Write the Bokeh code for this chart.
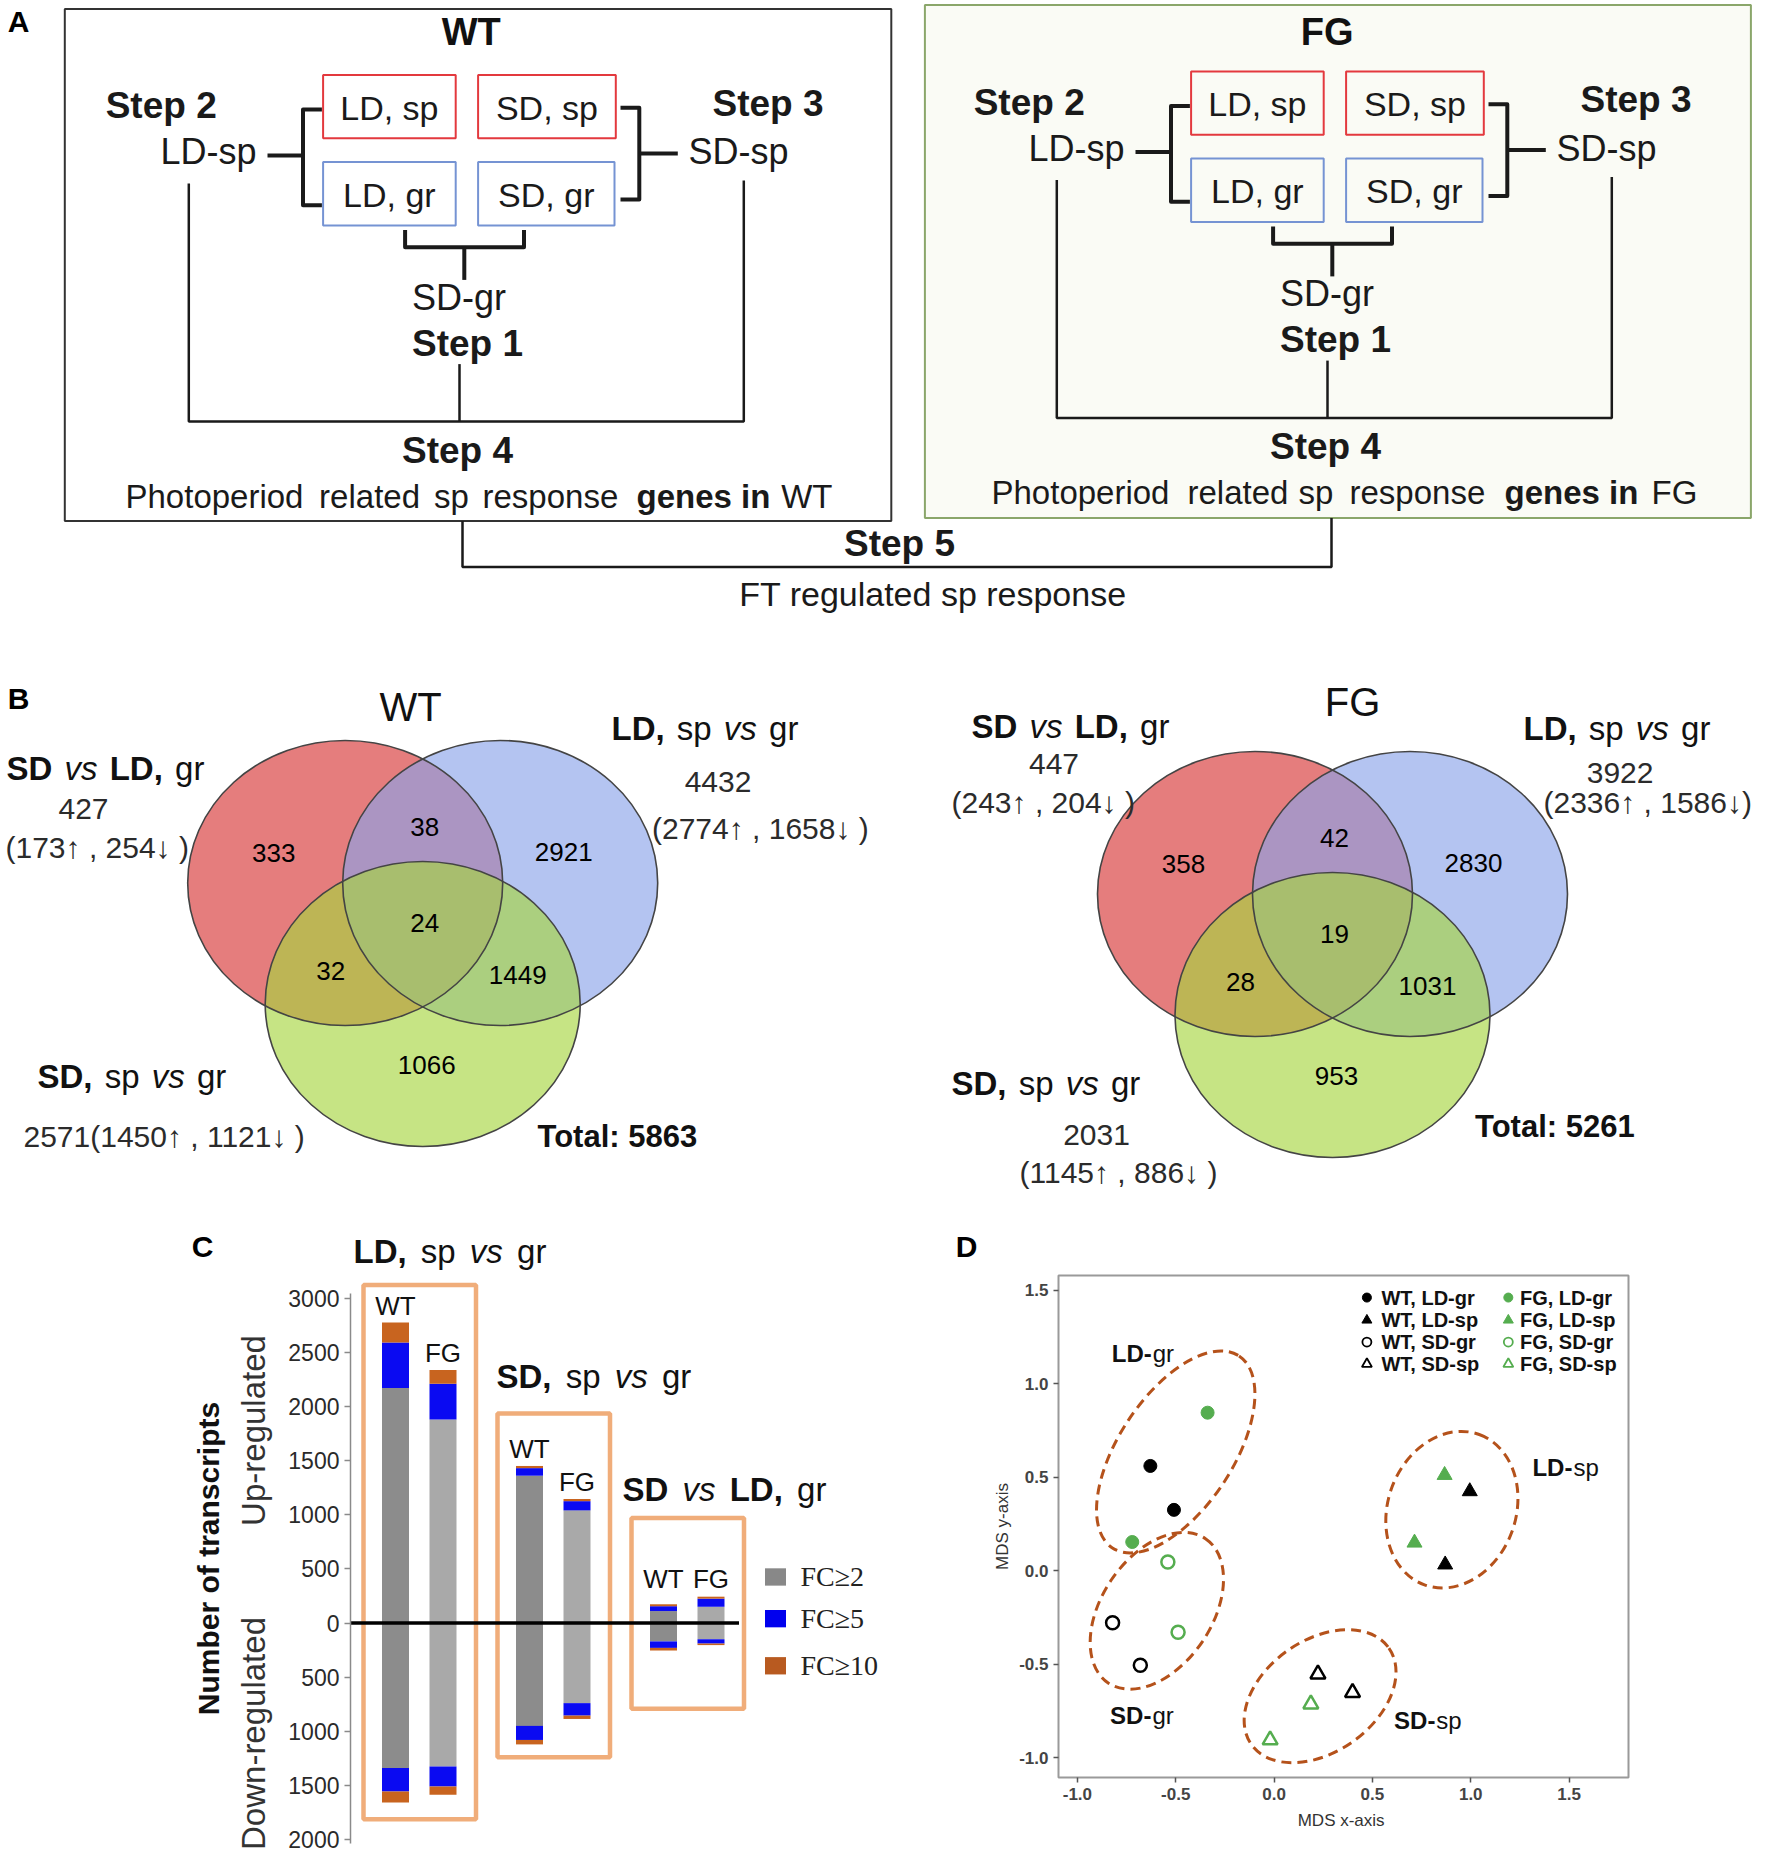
import numpy as np
from bokeh.plotting import figure
from bokeh.models import Range1d, Label, FixedTicker, PrintfTickFormatter
from bokeh.layouts import column, row
from bokeh.embed import file_html
from bokeh.resources import INLINE

FONT = "Liberation Sans"
SERIF = "Liberation Serif"

# ======================= DATA =======================
# Panel B - Venn region counts: red-only, red&blue, blue-only, all three, red&green, blue&green, green-only
wt_venn_counts = [333, 38, 2921, 24, 32, 1449, 1066]
fg_venn_counts = [358, 42, 2830, 19, 28, 1031, 953]
# sets: SD vs LD gr | LD sp vs gr | SD sp vs gr
wt_set_total = [427, 4432, 2571]
wt_set_up = [173, 2774, 1450]
wt_set_down = [254, 1658, 1121]
fg_set_total = [447, 3922, 2031]
fg_set_up = [243, 2336, 1145]
fg_set_down = [204, 1586, 886]
venn_grand_total = [5863, 5261]

# Panel C - numbers of transcripts (order: LD-WT, LD-FG, SD-WT, SD-FG, SDvsLD-WT, SDvsLD-FG)
comparisons = ["LD, sp vs gr", "SD, sp vs gr", "SD vs LD, gr"]
genotypes = ["WT", "FG"]
up_fc2 = [2170, 1880, 1360, 1040, 110, 150]
up_fc5 = [420, 330, 70, 85, 45, 75]
up_fc10 = [184, 126, 20, 20, 18, 18]
down_fc2 = [1340, 1325, 950, 740, 170, 150]
down_fc5 = [215, 185, 130, 115, 60, 40]
down_fc10 = [103, 76, 41, 31, 24, 14]
c_ticks = [-2000, -1500, -1000, -500, 0, 500, 1000, 1500, 2000, 2500, 3000]
fc_labels = ["FC\u22652", "FC\u22655", "FC\u226510"]

# Panel D - MDS coordinates
wt_ldgr_x = [-0.629, -0.509]; wt_ldgr_y = [0.560, 0.325]
fg_ldgr_x = [-0.338, -0.721]; fg_ldgr_y = [0.845, 0.153]
wt_sdgr_x = [-0.821, -0.680]; wt_sdgr_y = [-0.279, -0.506]
fg_sdgr_x = [-0.540, -0.488]; fg_sdgr_y = [0.046, -0.330]
wt_ldsp_x = [0.995, 0.870]; wt_ldsp_y = [0.424, 0.032]
fg_ldsp_x = [0.867, 0.714]; fg_ldsp_y = [0.511, 0.149]
wt_sdsp_x = [0.223, 0.399]; wt_sdsp_y = [-0.554, -0.653]
fg_sdsp_x = [0.187, -0.020]; fg_sdsp_y = [-0.714, -0.906]
d_ticks = [-1.0, -0.5, 0.0, 0.5, 1.0, 1.5]
cluster_names = ["LD-gr", "SD-gr", "LD-sp", "SD-sp"]
cluster_cx = [-0.500, -0.596, 0.904, 0.234]
cluster_cy = [0.635, -0.215, 0.326, -0.672]

# ======================= HELPERS =======================
REG = {' ': 278, '(': 333, ')': 333, ',': 278, '-': 333, '.': 278, ':': 278, '\u2191': 500, '\u2193': 500,
       'A': 667, 'B': 667, 'C': 722, 'D': 722, 'F': 611, 'G': 778, 'L': 556, 'N': 722, 'P': 667, 'S': 667,
       'T': 611, 'U': 722, 'W': 944, 'a': 556, 'b': 556, 'c': 500, 'd': 556, 'e': 556, 'f': 278, 'g': 556,
       'h': 556, 'i': 222, 'l': 222, 'm': 833, 'n': 556, 'o': 556, 'p': 556, 'r': 333, 's': 500, 't': 278,
       'u': 556, 'v': 500, 'w': 722, 'x': 500, 'y': 500}
BOLD = {' ': 278, ',': 278, '-': 333, ':': 333, 'D': 722, 'F': 611, 'G': 778, 'L': 611, 'S': 667, 'T': 611,
        'W': 944, 'a': 556, 'e': 556, 'g': 611, 'i': 278, 'l': 278, 'n': 611, 'o': 611, 'p': 611, 'r': 389,
        's': 556, 't': 333, 'v': 556, 'u': 611, 'm': 889}


def tw(text, style, size):
    table = BOLD if "bold" in style else REG
    return sum(table.get(ch, 556) for ch in text) * size / 1000.0


def lab(p, x, y, text, size, style="normal", color="#111111", align="center", baseline="middle",
        angle=0.0, font=FONT, xoff=0.0):
    p.add_layout(Label(x=x, y=y, text=text, text_font=font, text_font_size=f"{size}px",
                       text_font_style=style, text_color=color, text_align=align,
                       text_baseline=baseline, angle=angle, x_offset=xoff))


def rich(p, x, y, pieces, size, color="#111111", extra=3.0, sep=None, align="left"):
    gap = (278 * size / 1000.0 + extra) if sep is None else sep
    widths = [tw(t, s, size) for t, s in pieces]
    total = sum(widths) + gap * (len(pieces) - 1)
    off = 0.0 if align == "left" else -total / 2.0
    for (t, s), w in zip(pieces, widths):
        lab(p, x, y, t, size, style=s, color=color, align="left", xoff=off)
        off += w + gap


def comp_pieces(name):
    if name.startswith("SD vs"):
        return [("SD", "bold"), ("vs", "italic"), ("LD,", "bold"), ("gr", "normal")]
    head = name.split(" ")[0]
    return [(head, "bold"), ("sp", "normal"), ("vs", "italic"), ("gr", "normal")]


def no_align(p):
    if "frame_align" in p.properties():
        p.frame_align = False
    return p


PAGE_W = 1770
TOP_H = 1225
BOT_H = 637

# ======================= PANELS A + B (canvas) =======================
ab = figure(width=PAGE_W, height=TOP_H, x_range=Range1d(0, PAGE_W), y_range=Range1d(TOP_H, 0),
            x_axis_type=None, y_axis_type=None, toolbar_location=None, output_backend="svg",
            min_border=0, outline_line_color=None, background_fill_color="white")
no_align(ab)

RED_BOX = "#e3393e"
BLUE_BOX = "#7593d3"

ab.quad(left=[64.3], right=[890.8], top=[8.4], bottom=[520.5], fill_color="white",
        line_color="#333333", line_width=2)
ab.quad(left=[924.4], right=[1750.4], top=[4.6], bottom=[517.4], fill_color="#fafbf5",
        line_color="#8aa66a", line_width=2)
lab(ab, 18, 21, "A", 30, "bold", "black")
lab(ab, 470.7, 31, "WT", 38, "bold", "#111111")
lab(ab, 1326.6, 31, "FG", 38, "bold", "#111111")

cond_text = ["LD, sp", "SD, sp", "LD, gr", "SD, gr"]


def flow(p, dx, dy, genotype, words_x):
    X = lambda v: v + dx
    Y = lambda v: v + dy
    bl = [322.6, 477.6, 322.6, 477.6]
    br = [455.2, 615.3, 455.2, 614.0]
    bt = [74.6, 74.6, 161.5, 161.5]
    bb = [137.8, 137.8, 225.0, 225.0]
    cols = [RED_BOX, RED_BOX, BLUE_BOX, BLUE_BOX]
    p.quad(left=[X(v) for v in bl], right=[X(v) for v in br], top=[Y(v) for v in bt],
           bottom=[Y(v) for v in bb], fill_color=None, line_color=cols, line_width=2)
    for i, t in enumerate(cond_text):
        lab(p, X((bl[i] + br[i]) / 2), Y((bt[i] + bb[i]) / 2 + 1), t, 34, "normal", "#1a1a1a")
    brackets_x = [[321.4, 302.5, 302.5, 321.4], [267, 302.5],
                  [620, 638.8, 638.8, 620], [638.8, 677.3],
                  [404.6, 404.6, 523.5, 523.5], [463.8, 463.8]]
    brackets_y = [[109, 109, 204.7, 204.7], [155, 155],
                  [107.2, 107.2, 199, 199], [153, 153],
                  [229.6, 246.8, 246.8, 229.6], [246.8, 279.4]]
    p.multi_line(xs=[[X(v) for v in a] for a in brackets_x], ys=[[Y(v) for v in a] for a in brackets_y],
                 line_color="#1a1a1a", line_width=4, line_join="round")
    big_x = [[188.3, 188.3, 743.3, 743.3], [459, 459]]
    big_y = [[183, 421, 421, 180], [363.6, 421]]
    p.multi_line(xs=[[X(v) for v in a] for a in big_x], ys=[[Y(v) for v in a] for a in big_y],
                 line_color="#1a1a1a", line_width=2.5)
    lab(p, X(160.7), Y(105), "Step 2", 37, "bold", "#1a1a1a")
    lab(p, X(208), Y(151), "LD-sp", 36, "normal", "#1a1a1a")
    lab(p, X(767.5), Y(102.6), "Step 3", 37, "bold", "#1a1a1a")
    lab(p, X(738), Y(151), "SD-sp", 36, "normal", "#1a1a1a")
    lab(p, X(458.6), Y(296.6), "SD-gr", 36, "normal", "#1a1a1a")
    lab(p, X(467), Y(342.5), "Step 1", 37, "bold", "#1a1a1a")
    lab(p, X(457), Y(449.7), "Step 4", 37, "bold", "#1a1a1a")
    words = [("Photoperiod", "normal"), ("related", "normal"), ("sp", "normal"), ("response", "normal"),
             ("genes in", "bold"), (genotype, "normal")]
    for (w, s), wx in zip(words, words_x):
        lab(p, wx, Y(495.6), w, 33, s, "#1a1a1a", align="left")


flow(ab, 0, 0, "WT", [125, 318.6, 433.4, 482, 636, 780.7])
flow(ab, 868, -3.5, "FG", [991, 1187, 1298, 1349, 1504, 1651])

ab.line(x=[462, 462, 1331, 1331], y=[520.5, 566.4, 566.4, 517.4], line_color="#1a1a1a", line_width=2.5)
lab(ab, 899, 543, "Step 5", 37, "bold", "#1a1a1a")
lab(ab, 932.5, 593, "FT regulated sp response", 34, "normal", "#1a1a1a")

# ---------- Panel B ----------
lab(ab, 18, 698, "B", 30, "bold", "black")
V_RED, V_BLUE, V_GREEN = "#d63434", "#8aa2e9", "#a6d43e"
circ_dx = [-77.5, 77.5, 0.0]
circ_dy = [0.0, 0.0, 121.0]
region_dx = [-149, 2, 141, 2, -92, 95, 4]
region_dy = [-30, -56, -31, 40, 88, 92, 182]


def venn(p, ax, ay, counts):
    cx = [ax + d for d in circ_dx]
    cy = [ay + d for d in circ_dy]
    for i, col in enumerate([V_RED, V_BLUE, V_GREEN]):
        p.ellipse(x=[cx[i]], y=[cy[i]], width=315, height=285, fill_color=col, fill_alpha=0.64,
                  line_color=None)
    p.ellipse(x=cx, y=cy, width=315, height=285, fill_color=None, line_color="#444444", line_width=1.6)
    for n, dxx, dyy in zip(counts, region_dx, region_dy):
        lab(p, ax + dxx, ay + dyy, str(n), 26, "normal", "black")


venn(ab, 422.2, 882.5, wt_venn_counts)
venn(ab, 1332.0, 893.5, fg_venn_counts)

NUMC = "#2b2b2b"
lab(ab, 410, 706, "WT", 40, "normal", "#111111")
rich(ab, 6, 768, comp_pieces(comparisons[2]), 33)
lab(ab, 83, 808, str(wt_set_total[0]), 30, "normal", NUMC)
lab(ab, 5, 847, f"({wt_set_up[0]}\u2191 , {wt_set_down[0]}\u2193 )", 30, "normal", NUMC, align="left")
rich(ab, 611, 727.5, comp_pieces(comparisons[0]), 33)
lab(ab, 717.5, 781, str(wt_set_total[1]), 30, "normal", NUMC)
lab(ab, 651.5, 827.5, f"({wt_set_up[1]}\u2191 , {wt_set_down[1]}\u2193 )", 30, "normal", NUMC, align="left")
rich(ab, 37, 1075.5, comp_pieces(comparisons[1]), 33)
lab(ab, 23, 1136, f"{wt_set_total[2]}({wt_set_up[2]}\u2191 , {wt_set_down[2]}\u2193 )", 30, "normal", NUMC,
    align="left")
lab(ab, 537, 1136, f"Total: {venn_grand_total[0]}", 31, "bold", "#111111", align="left")
lab(ab, 1352, 701, "FG", 40, "normal", "#111111")
rich(ab, 971, 725.7, comp_pieces(comparisons[2]), 33)
lab(ab, 1053.5, 763, str(fg_set_total[0]), 30, "normal", NUMC)
lab(ab, 951, 802.4, f"({fg_set_up[0]}\u2191 , {fg_set_down[0]}\u2193 )", 30, "normal", NUMC, align="left")
rich(ab, 1523, 727.5, comp_pieces(comparisons[0]), 33)
lab(ab, 1619.6, 772, str(fg_set_total[1]), 30, "normal", NUMC)
lab(ab, 1543, 802.4, f"({fg_set_up[1]}\u2191 , {fg_set_down[1]}\u2193)", 30, "normal", NUMC, align="left")
rich(ab, 951, 1082.7, comp_pieces(comparisons[1]), 33)
lab(ab, 1096, 1134.5, str(fg_set_total[2]), 30, "normal", NUMC)
lab(ab, 1019, 1172, f"({fg_set_up[2]}\u2191 , {fg_set_down[2]}\u2193 )", 30, "normal", NUMC, align="left")
lab(ab, 1474.5, 1125.5, f"Total: {venn_grand_total[1]}", 31, "bold", "#111111", align="left")

# ======================= PANEL C: side text canvas =======================
CL_W = 280
cl = figure(width=CL_W, height=BOT_H, x_range=Range1d(0, CL_W), y_range=Range1d(-(TOP_H + BOT_H), -TOP_H),
            x_axis_type=None, y_axis_type=None, toolbar_location=None, output_backend="svg",
            min_border=0, outline_line_color=None, background_fill_color="white")
no_align(cl)
lab(cl, 202, -1246, "C", 30, "bold", "black")
lab(cl, 207.5, -1558, "Number of transcripts", 30, "bold", "#111111", angle=np.pi / 2)
lab(cl, 253.4, -1430, "Up-regulated", 33, "normal", "#333333", angle=np.pi / 2)
lab(cl, 253.4, -1733, "Down-regulated", 33, "normal", "#333333", angle=np.pi / 2)

# ======================= PANEL C: bar chart =======================
C_W = 710
C_LB = 70
PXU = 50.0           # pixels per slot unit
PXV = 0.1083         # pixels per transcript
Y0 = 1622.5 - TOP_H  # pixel row of zero inside the panel
c = figure(width=C_W, height=BOT_H,
           x_range=Range1d(-0.9, -0.9 + (C_W - C_LB) / PXU),
           y_range=Range1d(-(BOT_H - Y0) / PXV, Y0 / PXV),
           x_axis_type=None, toolbar_location=None, output_backend="svg",
           min_border_left=C_LB, min_border_right=0, min_border_top=0, min_border_bottom=0,
           outline_line_color=None, background_fill_color="white")
no_align(c)
c.grid.visible = False
c.yaxis.ticker = FixedTicker(ticks=c_ticks)
c.yaxis.major_label_overrides = {t: str(abs(t)) for t in c_ticks}
c.yaxis.bounds = (-2040, 3040)
c.yaxis.major_label_text_font = FONT
c.yaxis.major_label_text_font_size = "23px"
c.yaxis.major_label_text_color = "#2a2a2a"
c.yaxis.major_label_standoff = 5
c.yaxis.axis_line_color = "#8a8a8a"
c.yaxis.axis_line_width = 1.5
c.yaxis.major_tick_line_color = "#8a8a8a"
c.yaxis.major_tick_line_width = 1.5
c.yaxis.major_tick_out = 6
c.yaxis.major_tick_in = 0
c.yaxis.minor_tick_line_color = None

GROUP_STEP, MEMBER_STEP, BAR_W = 2.68, 0.95, 0.54
xpos = [g * GROUP_STEP + m * MEMBER_STEP for g in range(len(comparisons)) for m in range(len(genotypes))]
gray_cols = ["#8c8c8c", "#a9a9a9"] * len(comparisons)
BLUE_FC, ORANGE_FC = "#0a0af2", "#c8641f"

u2 = np.array(up_fc2); u5 = np.array(up_fc5); u10 = np.array(up_fc10)
d2 = np.array(down_fc2); d5 = np.array(down_fc5); d10 = np.array(down_fc10)

box_l = [g * GROUP_STEP - 0.64 for g in range(3)]
box_r = [g * GROUP_STEP + MEMBER_STEP + 0.66 for g in range(3)]
box_t = [3120, 1935, 970]
box_b = [-1813, -1239, -792]
c.quad(left=box_l, right=box_r, top=box_t, bottom=box_b, fill_color=None, line_color="#f0ad7a",
       line_width=4.5)

c.vbar(x=xpos, width=BAR_W, bottom=0, top=u2, fill_color=gray_cols, line_color=None)
c.vbar(x=xpos, width=BAR_W, bottom=u2, top=u2 + u5, fill_color=BLUE_FC, line_color=None)
c.vbar(x=xpos, width=BAR_W, bottom=u2 + u5, top=u2 + u5 + u10, fill_color=ORANGE_FC, line_color=None)
c.vbar(x=xpos, width=BAR_W, bottom=0, top=-d2, fill_color=gray_cols, line_color=None)
c.vbar(x=xpos, width=BAR_W, bottom=-d2, top=-(d2 + d5), fill_color=BLUE_FC, line_color=None)
c.vbar(x=xpos, width=BAR_W, bottom=-(d2 + d5), top=-(d2 + d5 + d10), fill_color=ORANGE_FC, line_color=None)

c.line(x=[-0.9, box_r[-1] - 0.1], y=[0, 0], line_color="black", line_width=3.5)

up_total = u2 + u5 + u10
label_y = np.maximum(up_total + 155, 408)
for i, xv in enumerate(xpos):
    lab(c, xv, label_y[i], genotypes[i % 2], 26, "normal", "#111111")

title_x = [-0.84, 2.02, 4.54]
title_y = [3430, 2276, 1233]
for name, tx, ty in zip(comparisons, title_x, title_y):
    rich(c, tx, ty, comp_pieces(name), 33, extra=5)

leg_y = [425, 40, -395]
leg_cols = ["#888888", "#0000ee", "#b85a20"]
c.rect(x=[7.6] * 3, y=leg_y, width=0.42, height=160, fill_color=leg_cols, line_color=None)
for t, yv in zip(fc_labels, leg_y):
    lab(c, 8.1, yv, t, 28, "normal", "#222222", align="left", font=SERIF)

# panel letter D lives in this frame's area
lab(c, (966 - 395) / PXU, (1622.5 - 1246) / PXV, "D", 30, "bold", "black")

# ======================= PANEL D =======================
D_W = PAGE_W - CL_W - C_W
D_LB, D_FW, D_TB, D_FH = 67, 571, 50, 502
d = figure(width=D_W, height=BOT_H, x_range=Range1d(-1.096, 1.802), y_range=Range1d(-1.107, 1.579),
           toolbar_location=None, output_backend="svg",
           min_border_left=D_LB, min_border_right=D_W - D_LB - D_FW,
           min_border_top=D_TB, min_border_bottom=BOT_H - D_TB - D_FH,
           outline_line_color="#9a9a9a", outline_line_width=2, background_fill_color="white")
no_align(d)
d.grid.visible = False
for ax in (d.xaxis, d.yaxis):
    ax.ticker = FixedTicker(ticks=d_ticks)
    ax.formatter = PrintfTickFormatter(format="%.1f")
    ax.axis_line_color = None
    ax.major_tick_line_color = "#555555"
    ax.major_tick_line_width = 1.5
    ax.major_tick_out = 5
    ax.major_tick_in = 0
    ax.minor_tick_line_color = None
    ax.major_label_text_font = FONT
    ax.major_label_text_font_size = "17px"
    ax.major_label_text_font_style = "bold"
    ax.major_label_text_color = "#444444"
    ax.major_label_standoff = 5
    ax.axis_label_text_font = FONT
    ax.axis_label_text_font_size = "17px"
    ax.axis_label_text_font_style = "normal"
    ax.axis_label_text_color = "#333333"
d.xaxis.axis_label = "MDS  x-axis"
d.yaxis.axis_label = "MDS y-axis"
d.xaxis.axis_label_standoff = 8
d.yaxis.axis_label_standoff = 4

ELL = "#b5521b"
d.ellipse(x=cluster_cx, y=cluster_cy, width=[230, 174, 160, 168], height=[114, 110, 128, 112],
          angle=[56.6, 56.0, 70.0, 35.0], angle_units="deg", width_units="screen", height_units="screen",
          fill_color=None, line_color=ELL, line_width=3, line_dash="10 6")

GREEN = "#55ad4f"
series = [
    (wt_ldgr_x, wt_ldgr_y, "circle", "black", True),
    (wt_ldsp_x, wt_ldsp_y, "triangle", "black", True),
    (wt_sdgr_x, wt_sdgr_y, "circle", "black", False),
    (wt_sdsp_x, wt_sdsp_y, "triangle", "black", False),
    (fg_ldgr_x, fg_ldgr_y, "circle", GREEN, True),
    (fg_ldsp_x, fg_ldsp_y, "triangle", GREEN, True),
    (fg_sdgr_x, fg_sdgr_y, "circle", GREEN, False),
    (fg_sdsp_x, fg_sdsp_y, "triangle", GREEN, False),
]
for xs_, ys_, mk, col, filled in series:
    size = 13 if mk == "circle" else 15
    d.scatter(x=xs_, y=ys_, marker=mk, size=size, fill_color=col if filled else None,
              line_color=col, line_width=1 if filled else 2.5)

leg_rows = [1.461, 1.340, 1.223, 1.105]
leg_col_marker = [0.472, 1.191]
leg_col_text = [0.546, 1.250]
labels_d = ["WT, LD-gr", "WT, LD-sp", "WT, SD-gr", "WT, SD-sp", "FG, LD-gr", "FG, LD-sp", "FG, SD-gr", "FG, SD-sp"]
for k, (xs_, ys_, mk, col, filled) in enumerate(series):
    cidx, ridx = k // 4, k % 4
    d.scatter(x=[leg_col_marker[cidx]], y=[leg_rows[ridx]], marker=mk, size=9 if mk == "circle" else 10,
              fill_color=col if filled else None, line_color=col, line_width=1 if filled else 1.8)
    lab(d, leg_col_text[cidx], leg_rows[ridx], labels_d[k], 20, "bold", "#111111", align="left")

clabel_x = [-0.667, -0.672, 1.482, 0.782]
clabel_y = [1.160, -0.774, 0.550, -0.801]
for name, lx, ly in zip(cluster_names, clabel_x, clabel_y):
    head, tail = name.split("-")
    rich(d, lx, ly, [(head + "-", "bold"), (tail, "normal")], 24, sep=1, align="center")

layout = column(ab, row(cl, c, d))
open("out.html", "w").write(file_html(layout, INLINE))
